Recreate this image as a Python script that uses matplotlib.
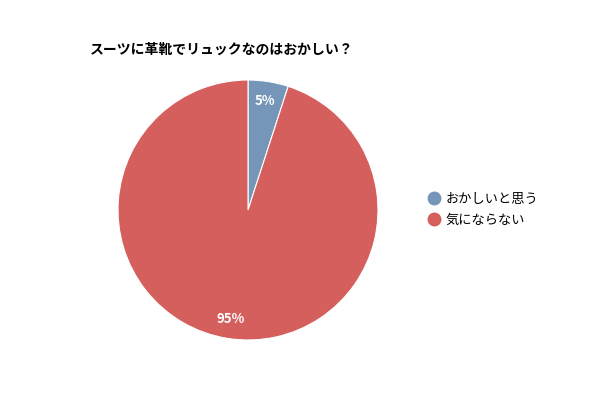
import matplotlib
matplotlib.use("Agg")
import matplotlib.pyplot as plt
from matplotlib.lines import Line2D

plt.rcParams["font.family"] = ["Noto Sans CJK JP", "DejaVu Sans"]

title = "スーツに革靴でリュックなのはおかしい？"
labels = ["おかしいと思う", "気にならない"]
values = [5, 95]
colors = ["#7596b8", "#d45f5c"]

fig = plt.figure(figsize=(6, 4), dpi=100)
ax = fig.add_axes([118 / 600, 60 / 400, 260 / 600, 260 / 400])

wedges, texts, autotexts = ax.pie(
    values,
    colors=colors,
    startangle=90,
    counterclock=False,
    autopct="%d%%",
    pctdistance=0.85,
    wedgeprops={"edgecolor": "white", "linewidth": 0.8},
)
for t in autotexts:
    t.set_color("white")
    t.set_fontsize(9.5)
    t.set_fontweight("bold")
ax.set_xlim(-1, 1)
ax.set_ylim(-1, 1)
ax.set_aspect("equal")

fig.text(90 / 600, 1 - 50 / 400, title, fontsize=10, fontweight="bold",
         ha="left", va="center")

# legend with round markers
handles = [Line2D([], [], marker="o", linestyle="", markersize=9,
                  markerfacecolor=c, markeredgecolor=c) for c in colors]
fig.legend(handles, labels, loc="center left", bbox_to_anchor=(409 / 600, 1 - 210 / 400),
           frameon=False, fontsize=9.5, handletextpad=-0.1, labelspacing=0.6)

fig.savefig("out.png", dpi=100)
